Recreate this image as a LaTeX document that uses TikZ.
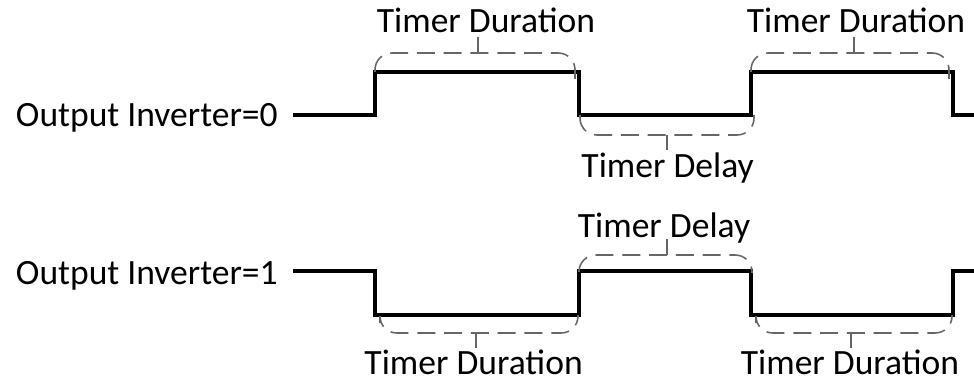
\documentclass[tikz,border=0pt]{standalone}
\usepackage{fontspec}
\setmainfont{Carlito}
\usepackage{tikz}
\usetikzlibrary{positioning, calc}

\begin{document}
\begin{tikzpicture}[
  signal/.style={line width=2.4pt, black},
  brace/.style={draw=gray!80!black, line width=1.1pt, dash pattern=on 0.45cm off 0.22cm, rounded corners=0.42cm},
  tickline/.style={draw=gray!80!black, line width=1.1pt},
  lbl/.style={font=\fontsize{25.3}{30}\selectfont, inner sep=0pt, anchor=base},
  rowname/.style={lbl, anchor=base east}
]
\useasboundingbox (0,0) rectangle (24.35,9.575);
% row labels
\node[rowname] (inv0) at (6.95,6.425) {Output Inverter=0};
\node[rowname] (inv1) at (6.95,2.475) {Output Inverter=1};
% waveforms
\draw[signal] (7.325,6.7) -- (9.375,6.7) -- (9.375,7.775) -- (14.475,7.775) -- (14.475,6.7) -- (18.775,6.7) -- (18.775,7.775) -- (23.825,7.775) -- (23.825,6.7) -- (24.4,6.7);
\draw[signal] (7.325,2.8) -- (9.375,2.8) -- (9.375,1.7) -- (14.475,1.7) -- (14.475,2.8) -- (18.775,2.8) -- (18.775,1.7) -- (23.825,1.7) -- (23.825,2.8) -- (24.4,2.8);
% braces above
\foreach \xa/\xb/\xm in {9.375/14.475/11.95, 18.775/23.825/21.35}{
  \draw[brace] (\xa,7.775) -- (\xa,8.25) -- (\xb-0.1,8.25) -- (\xb-0.1,7.6);
  \draw[tickline] (\xm,8.25) -- (\xm,8.65);
}
\draw[brace] (14.5,6.7) -- (14.5,6.2) -- (18.85,6.2) -- (18.85,6.7);
\draw[tickline] (16.675,6.2) -- (16.675,5.825);
\draw[brace] (14.475,2.8) -- (14.475,3.2) -- (18.8,3.2) -- (18.8,2.75);
\draw[tickline] (16.675,3.2) -- (16.675,3.6);
% braces below
\foreach \xa/\xb/\xm in {9.5/14.45/11.9, 18.9/23.8/21.275}{
  \draw[brace] (\xa,1.5) -- (\xa,1.25) -- (\xb,1.25) -- (\xb,1.7);
  \draw[tickline] (\xm,1.25) -- (\xm,0.875);
}
% texts
\node[lbl] (dur1) at (12.15,8.75) {Timer Duration};
\node[lbl] (dur2) at (21.4,8.75) {Timer Duration};
\node[lbl] (del1) at (16.69,5.15) {Timer Delay};
\node[lbl] (del2) at (16.6,3.65) {Timer Delay};
\node[lbl] (dur3) at (11.84,0.22) {Timer Duration};
\node[lbl] (dur4) at (21.25,0.22) {Timer Duration};
\end{tikzpicture}
\end{document}
